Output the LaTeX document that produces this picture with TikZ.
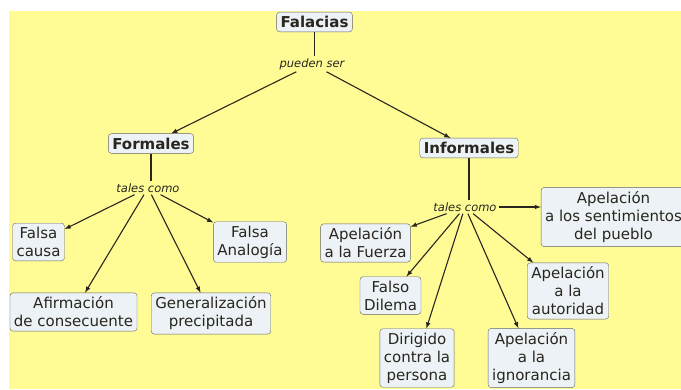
\documentclass[tikz,border=0pt]{standalone}
\usepackage{fontspec}
\setmainfont{DejaVu Sans}
\usetikzlibrary{arrows}
\definecolor{paper}{RGB}{255,252,150}
\definecolor{boxfill}{RGB}{236,242,246}
\definecolor{ink}{RGB}{40,38,30}

\begin{document}
\begin{tikzpicture}[->,>=latex,x=1pt,y=-1pt,
    concept/.style={draw=black!60,fill=boxfill,rounded corners=3pt,thin,
      inner sep=4pt,align=center,text=ink,font=\fontsize{15}{18}\selectfont},
    title/.style={concept,font=\fontsize{15}{18}\selectfont\bfseries},
    link/.style={inner sep=2pt,text=ink,font=\fontsize{11.5}{14}\selectfont\itshape},
    conn/.style={draw=ink,line width=1.1pt},
    plain/.style={conn,-}]
  % background
  \fill[white] (0,0) rectangle (681,389);
  \fill[paper] (9,11) rectangle (681,389);
  \useasboundingbox (0,0) rectangle (681,389);

  \node[title](fal) at (314.5,22){Falacias};
  \node[link](ps) at (312,64){pueden ser};
  \node[title](form) at (151,143.5){Formales};
  \node[title](inf) at (469,148){Informales};
  \node[link](tc1) at (148,188){tales como};
  \node[link](tc2) at (465,207){tales como};

  % formales
  \node[concept](fc) at (38.5,242){Falsa\\causa};
  \node[concept](fa) at (250,242){Falsa\\Analogía};
  \node[concept](af) at (73.5,312){Afirmación\\de consecuente};
  \node[concept](gp) at (211,313.5){Generalización\\precipitada};

  % informales
  \node[concept](fue) at (365.5,243){Apelación\\a la Fuerza};
  \node[concept](dil) at (390.5,295.5){Falso\\Dilema};
  \node[concept](dir) at (417,358){Dirigido\\contra la\\persona};
  \node[concept](ign) at (531.5,358){Apelación\\a la\\ignorancia};
  \node[concept](aut) at (568,291){Apelación\\a la\\autoridad};
  \node[concept](sent) at (613.5,217){Apelación\\a los sentimientos\\del pueblo};

  \draw[plain] (fal) -- (fal |- ps.north);
  \draw[conn] (ps) -- (form);
  \draw[conn] (ps) -- (inf);
  \draw[plain] (form) -- (form |- tc1.north);
  \draw[plain] (inf) -- (inf |- tc2.north);
  \foreach \t in {fc,fa,af,gp}
    \draw[conn] (tc1) -- (\t);
  \foreach \t in {fue,dil,dir,ign,aut}
    \draw[conn] (tc2) -- (\t);
  \draw[conn] (tc2) -- (tc2 -| sent.west);
\end{tikzpicture}
\end{document}
